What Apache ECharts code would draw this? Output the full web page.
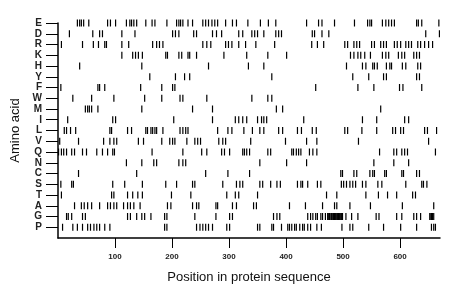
<!DOCTYPE html>
<html><head><meta charset="utf-8">
<script src="https://cdn.jsdelivr.net/npm/echarts@6/dist/echarts.min.js"></script>
<style>html,body{margin:0;padding:0;background:#fff}#c{width:460px;height:299px}</style>
</head><body><div id="c"></div>
<script>
// Row labels, bottom to top
const aminoAcids = ['P','G','A','T','S','C','N','Q','V','L','I','M','W','F','Y','H','K','R','D','E'];
const xTickValues = [100,200,300,400,500,600];

// Residue positions per amino acid
const E = [34,38,41,45,54,87,92,101,120,126,129,133,138,154,165,170,191,208,212,215,219,228,236,254,259,264,270,275,280,294,306,313,333,355,369,382,436,457,463,485,520,543,547,550,569,575,580,585,590,629,632,638,668];
const D = [20,61,73,78,112,135,201,206,212,238,243,271,278,287,317,324,340,345,350,361,382,387,392,446,450,463,475,645,669];
const R = [6,43,62,71,82,85,112,124,166,173,178,184,254,261,268,294,299,305,317,329,347,380,445,455,466,503,508,519,524,529,550,555,566,571,576,590,595,601,610,615,620,631,636,643,650,657];
const K = [112,131,136,141,148,189,192,212,217,228,231,243,291,331,368,401,513,519,526,531,538,548,569,575,580,597,603,608,624,629,634];
const H = [38,147,264,334,361,506,534,540,552,555,560,576,582,585,604,610,631,636];
const Y = [161,206,222,231,375,517,545,571,576,629,634];
const F = [5,70,73,82,145,182,201,205,452,526,554,599,605,638];
const W = [26,59,98,152,182,214,219,261,340,368,375];
const M = [48,52,55,59,70,147,236,271,383,394,566];
const I = [17,96,101,203,271,311,317,324,331,350,357,361,366,431,534,559,608,615];
const L = [11,15,22,31,91,94,122,129,154,157,163,166,170,173,184,214,219,224,228,280,298,305,326,341,354,361,387,394,420,427,446,453,503,508,533,559,587,592,601,606,643,648,664];
const V = [3,36,80,91,98,103,141,150,182,196,201,205,226,240,245,250,282,289,294,338,399,436,454,527,650];
const Q = [1,6,10,15,24,29,43,50,68,78,87,96,99,165,219,252,261,287,292,301,324,327,331,336,368,373,410,413,418,422,426,441,447,454,564,589,594,603,608,613,662];
const N = [120,147,168,173,212,219,224,354,401,436,554,589,615];
const C = [36,138,259,298,336,496,499,519,524,547,552,555,573,576,603,606,629,634];
const S = [5,24,27,96,117,148,189,208,236,240,289,313,319,324,354,359,373,384,390,420,426,429,438,455,461,497,501,506,512,517,522,534,540,561,568,610,638,641,647];
const T = [6,94,98,122,131,140,148,199,233,296,311,317,350,471,489,540,562,578,594,622,627];
const A = [29,41,46,52,59,73,87,92,98,103,115,122,127,133,144,192,198,236,243,247,277,280,306,313,343,348,406,434,464,485,489,512,548,604,659];
const G = [15,18,24,43,48,122,127,138,147,152,163,187,191,240,277,301,306,378,384,389,438,443,447,452,455,461,464,469,473,474,476,477,479,480,482,483,485,487,488,490,492,494,495,497,499,505,515,526,558,563,594,603,624,629,636,652,654,655,657,659];
const P = [8,26,34,43,52,57,63,68,73,82,91,187,191,243,249,254,259,264,271,296,301,350,354,375,378,392,403,406,410,415,418,424,429,432,438,443,454,462,498,512,517,545,571,601,629,655,659,662];

const rows = [P,G,A,T,S,C,N,Q,V,L,I,M,W,F,Y,H,K,R,D,E];
const yTickValues = aminoAcids.map((_, i) => i + 1);
const points = [];
rows.forEach((arr, i) => arr.forEach(p => points.push([p, i + 1])));

const chart = echarts.init(document.getElementById('c'), null, {renderer: 'canvas'});
const font = 'Liberation Sans, Arial, sans-serif';
chart.setOption({
  animation: false,
  backgroundColor: '#fff',
  grid: {left: 58, right: 20, top: 23, bottom: 61, containLabel: false},
  xAxis: {
    type: 'value', min: 0, max: 670,
    name: 'Position in protein sequence', nameLocation: 'middle', nameGap: 33,
    nameTextStyle: {fontSize: 13, color: '#111', fontFamily: font},
    axisLine: {show: true, onZero: false, lineStyle: {color: '#000', width: 1.5}},
    axisTick: {show: true, length: 10, customValues: xTickValues, lineStyle: {color: '#000', width: 1}},
    axisLabel: {customValues: xTickValues, margin: 15, fontSize: 8, fontWeight: 'bold', color: '#222', fontFamily: font},
    splitLine: {show: false}
  },
  yAxis: {
    type: 'value', min: 0, max: 20,
    name: 'Amino acid', nameLocation: 'middle', nameGap: 33, nameRotate: 90,
    nameTextStyle: {fontSize: 13, color: '#111', fontFamily: font},
    axisLine: {show: true, onZero: false, lineStyle: {color: '#000', width: 1.5}},
    axisTick: {show: true, length: 12, customValues: yTickValues, lineStyle: {color: '#000', width: 1}},
    axisLabel: {customValues: yTickValues, margin: 16, fontSize: 10, fontWeight: 'bold', color: '#222', fontFamily: font,
      formatter: v => aminoAcids[Math.round(v) - 1] || ''},
    splitLine: {show: false}
  },
  series: [{
    type: 'scatter',
    data: points,
    symbol: 'rect',
    symbolSize: [1.2, 7],
    itemStyle: {color: '#000', opacity: 1},
    emphasis: {disabled: true},
    silent: true
  }]
});
</script>
</body></html>
